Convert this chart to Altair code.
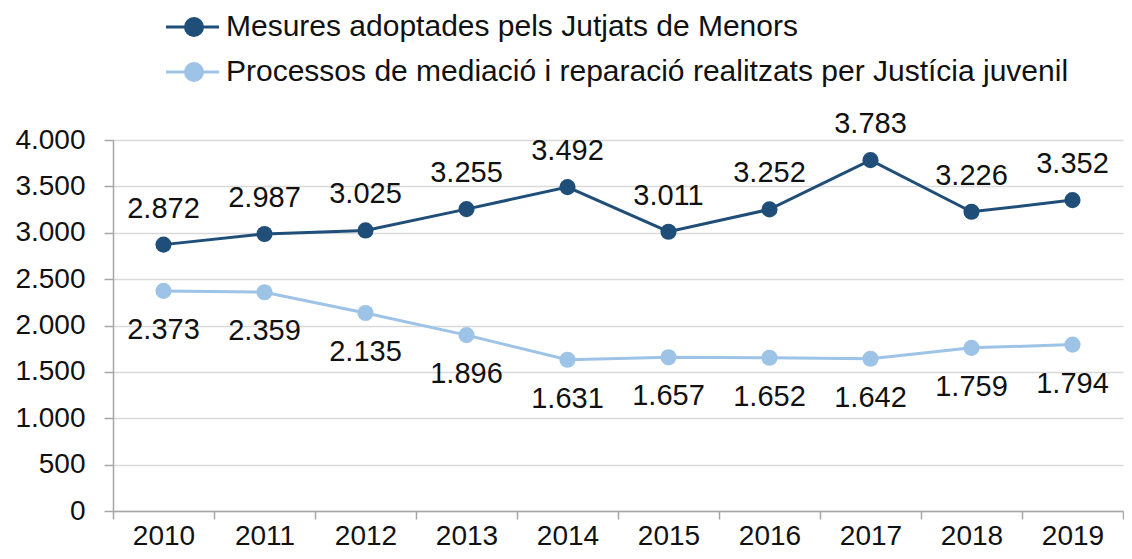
import altair as alt
import pandas as pd

years = ["2010", "2011", "2012", "2013", "2014", "2015", "2016", "2017", "2018", "2019"]
mesures = [2872, 2987, 3025, 3255, 3492, 3011, 3252, 3783, 3226, 3352]
processos = [2373, 2359, 2135, 1896, 1631, 1657, 1652, 1642, 1759, 1794]
series_names = [
    "Mesures adoptades pels Jutjats de Menors",
    "Processos de mediació i reparació realitzats per Justícia juvenil",
]
colors = ["#1F4E79", "#9DC3E6"]
y_ticks = [0, 500, 1000, 1500, 2000, 2500, 3000, 3500, 4000]

rows = []
for name, vals in zip(series_names, [mesures, processos]):
    for yr, v in zip(years, vals):
        rows.append({"year": yr, "value": v, "series": name})
df = pd.DataFrame(rows)

FONT = "Liberation Sans"
fmt_expr = "replace(format(datum.value, ','), ',', '.')"

x_enc = alt.X(
    "year:N",
    sort=years,
    scale=alt.Scale(type="band", paddingInner=0, paddingOuter=0),
    axis=alt.Axis(
        title=None, labelAngle=0, tickBand="extent", tickSize=8,
        labelFontSize=28, labelPadding=3, labelColor="#111111",
        domainColor="#a6a6a6", tickColor="#a6a6a6", domainWidth=1.5, tickWidth=1.5,
        grid=False,
    ),
)
y_enc = alt.Y(
    "value:Q",
    scale=alt.Scale(domain=[0, 4000], nice=False),
    axis=alt.Axis(
        title=None, values=y_ticks, labelExpr=fmt_expr, tickSize=9,
        labelPadding=19, labelFontSize=28, labelColor="#111111",
        domainColor="#a6a6a6", tickColor="#a6a6a6", domainWidth=1.5, tickWidth=1.5,
        gridColor="#d9d9d9", gridWidth=1.5,
    ),
)
color_enc = alt.Color(
    "series:N",
    scale=alt.Scale(domain=series_names, range=colors),
    legend=alt.Legend(
        title=None, orient="none", legendX=48, legendY=-128,
        symbolType="M-1,0L4.3,0M0.95,0A0.85,0.85 0 1,1 2.65,0A0.85,0.85 0 1,1 0.95,0Z",
        symbolSize=400, symbolStrokeWidth=3, labelOffset=35,
        labelFontSize=30, labelColor="#111111", rowPadding=15, padding=0,
        labelLimit=1000,
    ),
)

base = alt.Chart(df)
points = base.mark_point(filled=True, size=260, opacity=1).encode(
    x=x_enc, y=y_enc, color=color_enc
)
lines = base.mark_line(strokeWidth=3).encode(
    x=x_enc, y=y_enc, color=alt.Color("series:N", scale=alt.Scale(domain=series_names, range=colors), legend=None)
)

text_common = dict(fontSize=29, color="#111111", baseline="middle", align="center")
label_top = base.transform_filter(
    alt.datum.series == series_names[0]
).transform_calculate(
    lbl="replace(format(datum.value, ','), ',', '.')"
).mark_text(dy=-36, **text_common).encode(x=x_enc, y=y_enc, text="lbl:N")
label_bot = base.transform_filter(
    alt.datum.series == series_names[1]
).transform_calculate(
    lbl="replace(format(datum.value, ','), ',', '.')"
).mark_text(dy=39, **text_common).encode(x=x_enc, y=y_enc, text="lbl:N")

chart = alt.layer(points, lines, label_top, label_bot).properties(
    width=1010, height=371,
    padding={"left": 6, "top": 4, "right": 0, "bottom": 0},
).configure(font=FONT).configure_view(stroke=None)

chart.save("out.html", embed_options={"renderer": "svg", "actions": False})
